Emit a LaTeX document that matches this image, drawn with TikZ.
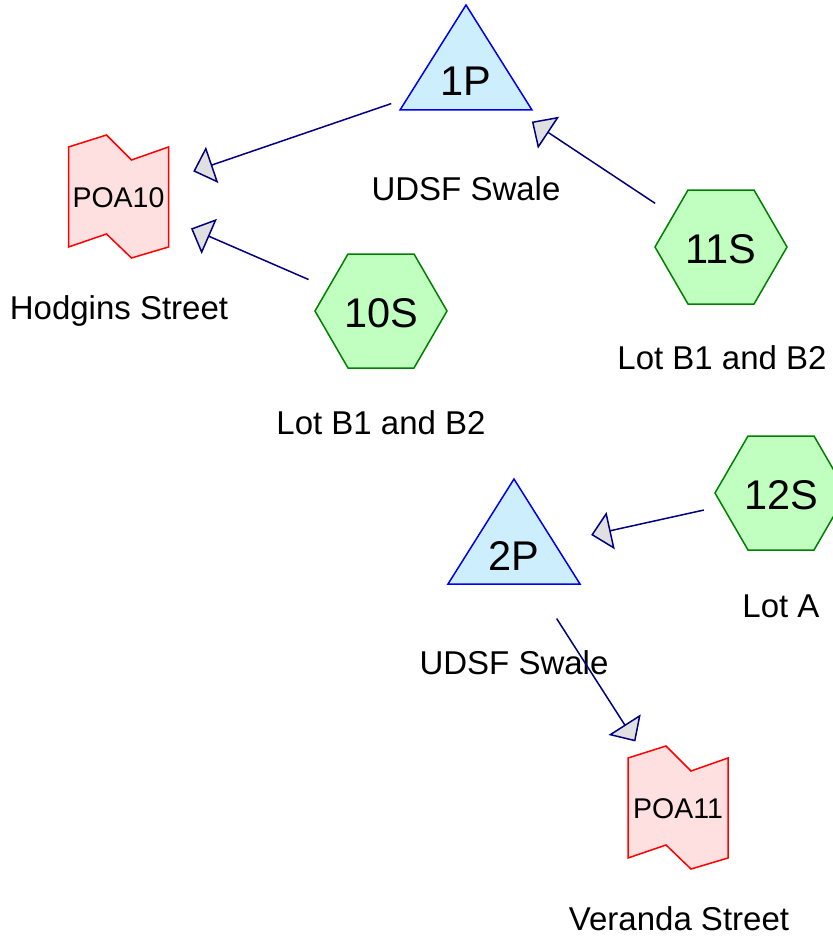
\documentclass[tikz,border=0pt]{standalone}
\usepackage{fontspec}
\setmainfont{Liberation Sans}
\usetikzlibrary{arrows.meta}

\definecolor{pondfill}{HTML}{CDEEFD}
\definecolor{pondline}{HTML}{0000F0}
\definecolor{subfill}{HTML}{C0FFC0}
\definecolor{subline}{HTML}{008000}
\definecolor{linkfill}{HTML}{FFE0E0}
\definecolor{linkline}{HTML}{FF0000}
\definecolor{flowline}{HTML}{000080}
\definecolor{headfill}{HTML}{E0E0E0}

\tikzset{
  pondshape/.style={draw=pondline, fill=pondfill, line width=1.5pt, line join=miter},
  subshape/.style={draw=subline, fill=subfill, line width=1.5pt},
  linkshape/.style={draw=linkline, fill=linkfill, line width=1.5pt},
  % pond: isosceles triangle, origin at its centre
  pond/.pic={\path[pondshape] (0,-73) -- (66,32) -- (-66,32) -- cycle;},
  % subcatchment: flat-topped hexagon, origin at its centre
  subcat/.pic={\path[subshape] (-66,0) -- (-33,-57) -- (33,-57) -- (66,0) -- (33,57) -- (-33,57) -- cycle;},
  % link / point of analysis: notched sheet, origin at its centre
  poa/.pic={\path[linkshape] (-50,-50) -- (-12,-62) -- (13,-37) -- (50,-50) -- (50,50) -- (13,61) -- (-12,37) -- (-50,50) -- cycle;},
  bigtext/.style={font=\fontsize{41.5}{50}\selectfont, inner sep=0pt},
  poatext/.style={font=\fontsize{28.5}{34}\selectfont, inner sep=0pt},
  caption/.style={font=\fontsize{33}{40}\selectfont, inner sep=0pt, anchor=base},
  flow/.style={draw=flowline, line width=1.5pt, shorten <=79pt, shorten >=79pt,
    -{Triangle[length=20pt, width=38pt, fill=headfill, line width=1.5pt]}},
}

\begin{document}
\begin{tikzpicture}[x=1pt, y=-1pt]
\useasboundingbox (0,0) rectangle (832,939);

% node centres
\coordinate (c1P) at (466,78);
\coordinate (c2P) at (514,552);
\coordinate (c10S) at (381,311);
\coordinate (c11S) at (721,247);
\coordinate (c12S) at (781,493);
\coordinate (cPOA10) at (118.5,197);
\coordinate (cPOA11) at (678,808);

% shapes
\pic at (c1P) {pond};
\pic at (c2P) {pond};
\pic at (c10S) {subcat};
\pic at (c11S) {subcat};
\pic at (c12S) {subcat};
\pic at (cPOA10) {poa};
\pic at (cPOA11) {poa};

% names inside shapes
\node[bigtext] (t1P) at (466,81) {1P};
\node[bigtext] (t2P) at (514,556) {2P};
\node[bigtext] (t10S) at (381,313) {10S};
\node[bigtext] (t11S) at (721,249) {11S};
\node[bigtext] (t12S) at (781,495) {12S};
\node[poatext] (tPOA10) at (118.5,198) {POA10};
\node[poatext] (tPOA11) at (678,809) {POA11};

% captions
\node[caption] (l1P) at (466,200) {UDSF Swale};
\node[caption] (lPOA10) at (119,319) {Hodgins Street};
\node[caption] (l10S) at (381,434) {Lot B1 and B2};
\node[caption] (l11S) at (722,369) {Lot B1 and B2};
\node[caption] (l12S) at (781,617) {Lot A};
\node[caption] (l2P) at (514,674) {UDSF Swale};
\node[caption] (lPOA11) at (679,930) {Veranda Street};

% flow connections
\draw[flow] (c1P) -- (cPOA10);
\draw[flow] (c10S) -- (cPOA10);
\draw[flow] (c11S) -- (c1P);
\draw[flow] (c12S) -- (c2P);
\draw[flow] (c2P) -- (cPOA11);
\end{tikzpicture}
\end{document}
